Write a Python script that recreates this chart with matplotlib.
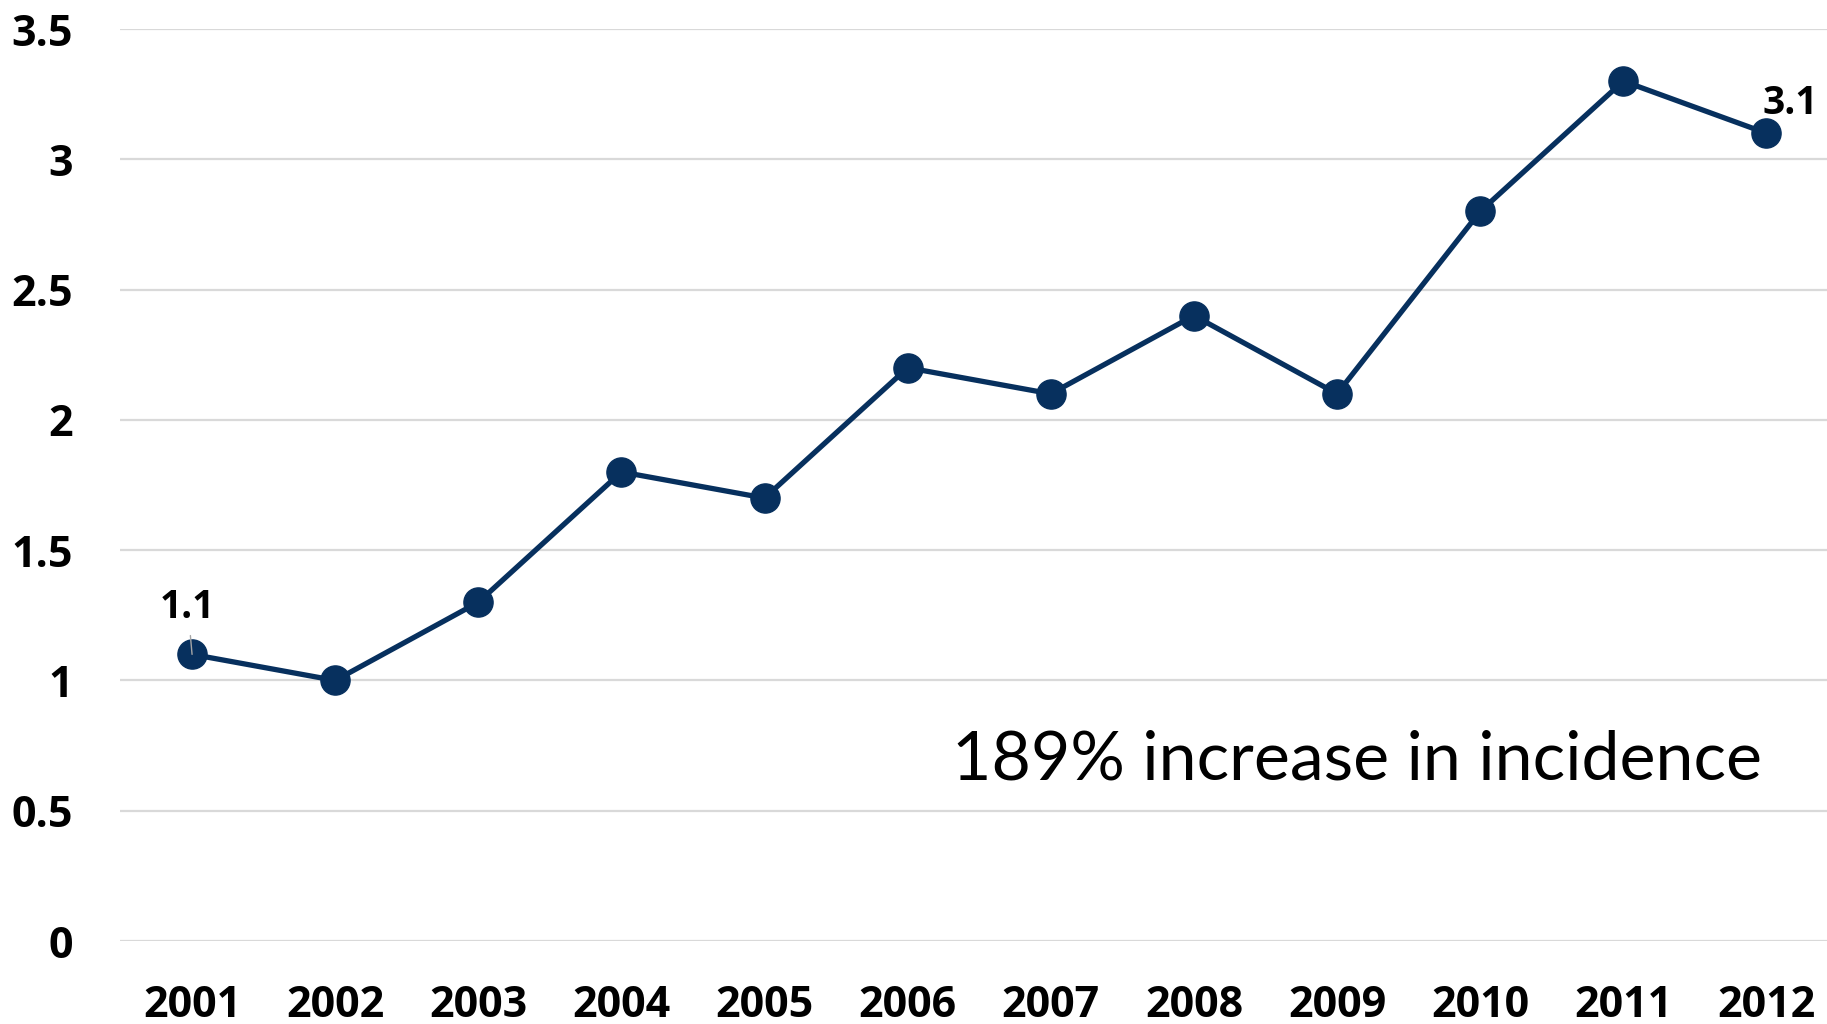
import matplotlib
matplotlib.use('Agg')
import matplotlib.pyplot as plt

plt.rcParams['font.family'] = ['Open Sans', 'DejaVu Sans']

years = ['2001', '2002', '2003', '2004', '2005', '2006',
         '2007', '2008', '2009', '2010', '2011', '2012']
incidence = [1.1, 1.0, 1.3, 1.8, 1.7, 2.2, 2.1, 2.4, 2.1, 2.8, 3.3, 3.1]
y_ticks = [0, 0.5, 1, 1.5, 2, 2.5, 3, 3.5]
y_tick_labels = ['0', '0.5', '1', '1.5', '2', '2.5', '3', '3.5']
note = '189% increase in incidence'

W, H = 1827, 1024
navy = '#07305e'

fig = plt.figure(figsize=(W / 100, H / 100), dpi=100)
# plot area runs a little past the right edge of the canvas
left, right = 120.5, 1838
bottom, top = H - 941, H - 29
ax = fig.add_axes([left / W, bottom / H, (right - left) / W, (top - bottom) / H])

x = list(range(len(years)))
ax.plot(x, incidence, color=navy, linewidth=3.8, marker='o',
        markersize=21, markerfacecolor=navy, markeredgecolor=navy,
        solid_capstyle='round', zorder=3, clip_on=False)

ax.set_xlim(-0.5, len(years) - 0.5)
ax.set_ylim(0, 3.5)
ax.set_yticks(y_ticks)
ax.set_yticklabels(y_tick_labels)
ax.set_xticks(x)
ax.set_xticklabels(years)
ax.tick_params(axis='y', length=0, pad=34, labelsize=31)
ax.tick_params(axis='x', length=0, pad=31, labelsize=31)
for lab in ax.get_xticklabels() + ax.get_yticklabels():
    lab.set_fontweight('bold')

ax.grid(True, axis='y', color='#d9d9d9', linewidth=1.6)
ax.set_axisbelow(True)
for s in ax.spines.values():
    s.set_visible(False)

# labels on first and last points
ax.annotate(f'{incidence[0]:.1f}', xy=(0, incidence[0]), xytext=(-3, 26),
            textcoords='offset points', ha='center', va='baseline',
            fontsize=28, fontweight='bold',
            arrowprops=dict(arrowstyle='-', color='#a6a6a6', lw=1.0,
                            shrinkA=4, shrinkB=0))
ax.annotate(f'{incidence[-1]:.1f}', xy=(11, incidence[-1]), xytext=(17, 14),
            textcoords='offset points', ha='center', va='baseline',
            fontsize=28, fontweight='bold')

ax.text(0.743, (H - 779) / H, note, transform=fig.transFigure, ha='center',
        va='baseline', fontsize=49, color='black', family=['Lato', 'DejaVu Sans'])

fig.savefig('out.png', dpi=100)
